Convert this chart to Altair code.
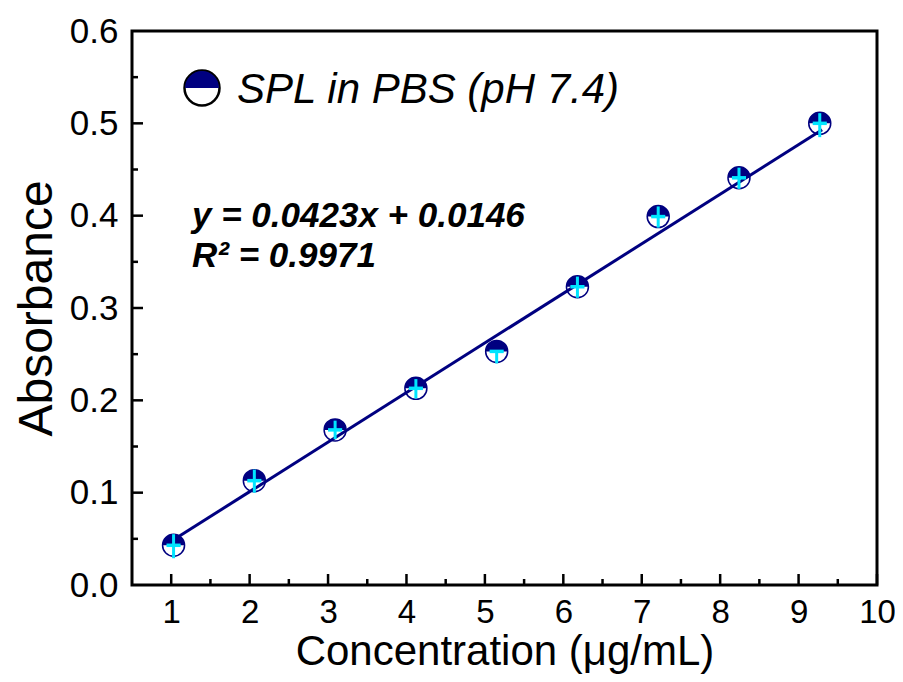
import altair as alt
import pandas as pd

# data
conc = [1.03, 2.06, 3.09, 4.12, 5.15, 6.18, 7.21, 8.24, 9.27]
absorb = [0.043, 0.113, 0.168, 0.213, 0.253, 0.323, 0.399, 0.441, 0.500]
err_lo = [0.014, 0.013, 0.010, 0.011, 0.013, 0.012, 0.012, 0.012, 0.015]
err_hi = [0.012, 0.012, 0.010, 0.010, 0.000, 0.011, 0.011, 0.011, 0.011]
x_err = [0.09] * 9
fit_x = [1.03, 9.30]
fit_y = [0.049, 0.493]
x_ticks = [1, 2, 3, 4, 5, 6, 7, 8, 9, 10]
x_minor = [1.5, 2.5, 3.5, 4.5, 5.5, 6.5, 7.5, 8.5, 9.5]
y_labels = [0, 0.1, 0.2, 0.3, 0.4, 0.5, 0.6]
y_ticks = [0.1, 0.2, 0.3, 0.4, 0.5]
y_minor = [0.05, 0.15, 0.25, 0.35, 0.45, 0.55]
legend_label = "SPL in PBS (pH 7.4)"
eq_line1 = "y = 0.0423x + 0.0146"
eq_line2 = "R² = 0.9971"

W, H = 745, 554
NAVY = "#000080"
CYAN = "#00E5FF"
FONT = "Liberation Sans"
HALF = "M-1,0A1,1,0,0,1,1,0Z"

df = pd.DataFrame({"x": conc, "y": absorb})
df["ylo"] = [a - e for a, e in zip(absorb, err_lo)]
df["yhi"] = [a + e for a, e in zip(absorb, err_hi)]
df["xlo"] = [c - e for c, e in zip(conc, x_err)]
df["xhi"] = [c + e for c, e in zip(conc, x_err)]
fit = pd.DataFrame({"x": fit_x, "y": fit_y})

xs = alt.Scale(domain=[0.5, 10], nice=False, zero=False)
ys = alt.Scale(domain=[0, 0.6], nice=False, zero=False)

xaxis = alt.Axis(values=x_ticks, format="d", ticks=False, domain=False, grid=False,
                 labelFontSize=33, labelFont=FONT, labelColor="black", labelPadding=11,
                 title="Concentration (μg/mL)", titleFontSize=42, titleFont=FONT,
                 titleFontWeight="normal", titleColor="black", titlePadding=2,
                 labelFlush=False)
yaxis = alt.Axis(values=y_labels, format=".1f", ticks=False,
                 domain=False, grid=False, labelFontSize=35, labelFont=FONT,
                 labelColor="black", labelPadding=14, title="Absorbance",
                 titleFontSize=48, titleFont=FONT, titleFontWeight="normal",
                 titleColor="black", titlePadding=8, labelFlush=False)


def X(f):
    return alt.X(f, scale=xs, axis=xaxis)


def Y(f):
    return alt.Y(f, scale=ys, axis=yaxis)


base = alt.Chart(df)

circle = base.mark_point(shape="circle", filled=True, fill="white", stroke=NAVY,
                         strokeWidth=1.5, size=484, opacity=1).encode(
    x=X("x:Q"), y=Y("y:Q"))
half = base.mark_point(shape=HALF, filled=True, color=NAVY, size=484, opacity=1).encode(
    x=X("x:Q"), y=Y("y:Q"))
line = alt.Chart(fit).mark_line(color=NAVY, strokeWidth=3).encode(
    x=X("x:Q"), y=Y("y:Q"))
vbar = base.mark_rule(color=CYAN, strokeWidth=3).encode(
    x=X("x:Q"), y=Y("ylo:Q"), y2="yhi:Q")
hbar = base.mark_rule(color=CYAN, strokeWidth=3.5).encode(
    x=X("xlo:Q"), x2="xhi:Q", y=Y("y:Q"))

# inward ticks
xt = pd.DataFrame({"v": x_ticks})
xm = pd.DataFrame({"v": x_minor})
yt = pd.DataFrame({"v": y_ticks})
ym = pd.DataFrame({"v": y_minor})
xtick = alt.Chart(xt).mark_rule(color="black", strokeWidth=2.5).encode(
    x=X("v:Q"), y=alt.value(H), y2=alt.value(H - 11))
xmin = alt.Chart(xm).mark_rule(color="black", strokeWidth=2.5).encode(
    x=X("v:Q"), y=alt.value(H), y2=alt.value(H - 6))
ytick = alt.Chart(yt).mark_rule(color="black", strokeWidth=2.5).encode(
    y=Y("v:Q"), x=alt.value(0), x2=alt.value(11))
ymin = alt.Chart(ym).mark_rule(color="black", strokeWidth=2.5).encode(
    y=Y("v:Q"), x=alt.value(0), x2=alt.value(6))

# legend
leg = pd.DataFrame({"t": [legend_label]})
leg_c = alt.Chart(leg).mark_point(shape="circle", filled=True, fill="white", stroke="black",
                                  strokeWidth=2.5, size=1225, opacity=1).encode(
    x=alt.value(70), y=alt.value(57))
leg_h = alt.Chart(leg).mark_point(shape=HALF, filled=True, color=NAVY, size=1150,
                                  opacity=1).encode(x=alt.value(70), y=alt.value(57))
leg_t = alt.Chart(leg).mark_text(align="left", baseline="middle", fontSize=42, font=FONT,
                                 fontStyle="italic", color="black").encode(
    x=alt.value(105), y=alt.value(59), text="t:N")

eq1 = alt.Chart(pd.DataFrame({"t": [eq_line1]})).mark_text(
    align="left", baseline="middle", fontSize=35, font=FONT, fontStyle="italic",
    fontWeight="bold", color="black").encode(x=alt.value(60), y=alt.value(185), text="t:N")
eq2 = alt.Chart(pd.DataFrame({"t": [eq_line2]})).mark_text(
    align="left", baseline="middle", fontSize=35, font=FONT, fontStyle="italic",
    fontWeight="bold", color="black").encode(x=alt.value(60), y=alt.value(225), text="t:N")

chart = alt.layer(circle, half, line, vbar, hbar, xtick, xmin, ytick, ymin,
                  leg_c, leg_h, leg_t, eq1, eq2).properties(
    width=W, height=H,
    autosize=alt.AutoSizeParams(type="none"),
    padding={"left": 124, "top": 23, "right": 18, "bottom": 89},
    background="white",
).configure_view(stroke="black", strokeWidth=3)

chart.save("out.html", embed_options={"renderer": "svg", "actions": False})
